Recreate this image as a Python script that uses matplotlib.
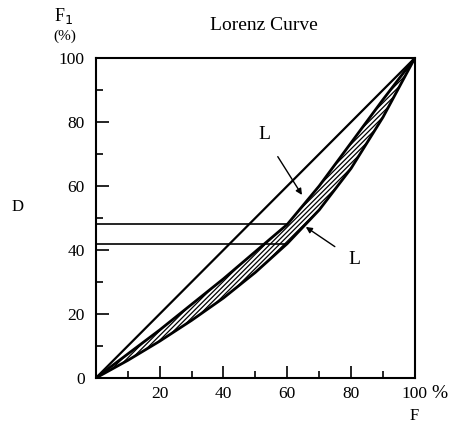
import matplotlib.pyplot as plt
import numpy as np

# share of population F (%) and cumulative share F1 (%)
F = [0, 10, 20, 30, 40, 50, 60, 70, 80, 90, 100]
courbe_haute = [0, 7.5, 15, 23, 31, 39.5, 48, 60, 73.5, 87, 100]
courbe_basse = [0, 5.5, 11.5, 18, 25, 33, 42, 52.5, 65.5, 81.5, 100]
egalite = [0, 100]
niveaux = [48, 42]          # F1 values read at F = 60
F_niveau = 60

x_ticks = [20, 40, 60, 80, 100]
y_ticks = [0, 20, 40, 60, 80, 100]

plt.rcParams['font.family'] = ['Liberation Serif', 'DejaVu Serif']
plt.rcParams['hatch.linewidth'] = 0.9

fig = plt.figure(figsize=(4.5, 4.25), dpi=100)
ax = fig.add_axes([0.213, 0.1106, 0.709, 0.753])

# ligne d'egalite
ax.plot(egalite, egalite, color='black', lw=1.6)

# les deux courbes de Lorenz et la bande hachuree
ax.plot(F, courbe_haute, color='black', lw=2)
ax.plot(F, courbe_basse, color='black', lw=2)
ax.fill_between(F, courbe_basse, courbe_haute, facecolor='none',
                edgecolor='black', hatch='///////', lw=0)

# lignes horizontales vers l'axe
for y in niveaux:
    ax.plot([0, F_niveau], [y, y], color='black', lw=1.2)

# etiquettes L avec fleches
ax.annotate('L', xy=(64.6, 57.2), xytext=(52.7, 76), ha='center', va='center',
            fontsize=14,
            arrowprops=dict(arrowstyle='-|>', color='black', lw=1,
                            mutation_scale=9, shrinkA=9, shrinkB=0))
ax.annotate('L', xy=(65.8, 47.2), xytext=(80.9, 37), ha='center', va='center',
            fontsize=14,
            arrowprops=dict(arrowstyle='-|>', color='black', lw=1,
                            mutation_scale=9, shrinkA=9, shrinkB=0))

ax.set_xlim(0, 100)
ax.set_ylim(0, 100)
ax.set_xticks(x_ticks)
ax.set_yticks(y_ticks)
ax.set_xticks(np.arange(10, 100, 10), minor=True)
ax.set_yticks(np.arange(10, 100, 10), minor=True)
ax.tick_params(which='major', direction='in', length=9, width=1.2, labelsize=12.5)
ax.tick_params(which='minor', direction='in', length=5, width=1.2)
ax.tick_params(axis='x', pad=6)
ax.tick_params(axis='y', pad=8)
for s in ax.spines.values():
    s.set_linewidth(1.5)

fig.text(0.587, 0.941, 'Lorenz Curve', ha='center', va='center', fontsize=14)
fig.text(0.142, 0.962, 'F$_1$', ha='center', va='center', fontsize=13)
fig.text(0.145, 0.915, '(%)', ha='center', va='center', fontsize=11)
fig.text(0.977, 0.075, '%', ha='center', va='center', fontsize=14)
fig.text(0.92, 0.022, 'F', ha='center', va='center', fontsize=12)
fig.text(0.04, 0.513, 'D', ha='center', va='center', fontsize=12)

fig.savefig('out.png', dpi=100)
